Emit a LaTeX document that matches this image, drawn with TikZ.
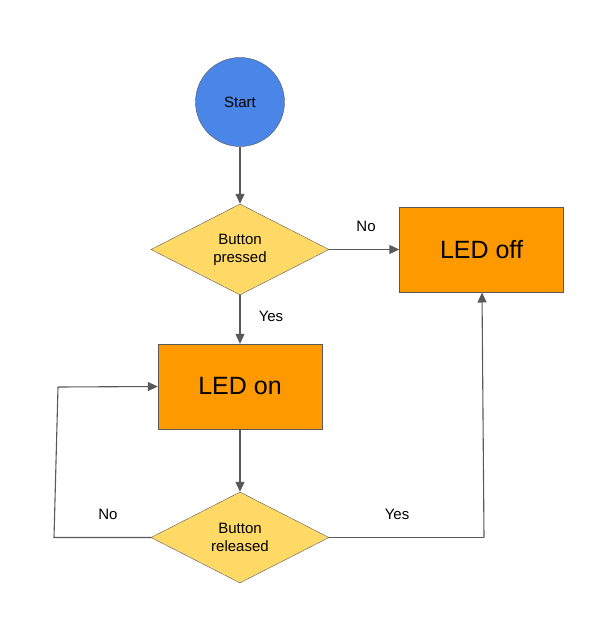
\documentclass[tikz,border=0pt]{standalone}
\usepackage{fontspec}
\setmainfont{Liberation Sans}
\usetikzlibrary{shapes.geometric,arrows.meta}
\definecolor{lineg}{HTML}{595959}
\definecolor{startblue}{HTML}{4A86E8}
\definecolor{decyellow}{HTML}{FFD966}
\definecolor{ledorange}{HTML}{FF9900}
\tikzset{
  startnode/.style={circle,draw=lineg,fill=startblue,minimum size=89pt,inner sep=0pt,font=\fontsize{15}{17}\selectfont},
  decnode/.style={diamond,draw=lineg,fill=decyellow,minimum width=178pt,minimum height=91pt,inner sep=0pt,aspect=1.96,align=center,font=\fontsize{15}{18}\selectfont},
  ledbox/.style={rectangle,draw=lineg,fill=ledorange,minimum width=164pt,minimum height=85pt,inner sep=0pt,font=\fontsize{25}{28}\selectfont},
  conn/.style={draw=lineg,line width=1.1pt,-{Triangle[length=10pt,width=9pt]}},
  plainconn/.style={draw=lineg,line width=1.1pt},
  lbl/.style={font=\fontsize{15}{17}\selectfont}
}
\begin{document}
\begin{tikzpicture}[x=1pt,y=-1pt]
\useasboundingbox (0,0) rectangle (590,617);
\node[startnode] (start) at (240,102) {Start};
\node[decnode] (press) at (240,249.5) {Button\\pressed};
\node[ledbox] (off) at (481.5,249.5) {LED off};
\node[ledbox] (on) at (240,386.5) {LED on};
\node[decnode] (rel) at (240,537.5) {Button\\released};
\coordinate (lb) at (54,537.5);
\coordinate (lt) at (58,387);
\coordinate (rb) at (484,537.5);
\draw[conn] (start) -- (press);
\draw[conn] (press) -- (off);
\draw[conn] (press) -- (on);
\draw[conn] (on) -- (rel);
\draw[plainconn] (rel.west) -- (lb) -- (lt);
\draw[conn] (lt) -- (on.west);
\draw[plainconn] (rel.east) -- (rb);
\draw[conn] (rb) -- (482,292.5);
\node[lbl] (lno1) at (366,226) {No};
\node[lbl] (lyes1) at (271,316) {Yes};
\node[lbl] (lno2) at (108,514) {No};
\node[lbl] (lyes2) at (397,514) {Yes};
\end{tikzpicture}
\end{document}
